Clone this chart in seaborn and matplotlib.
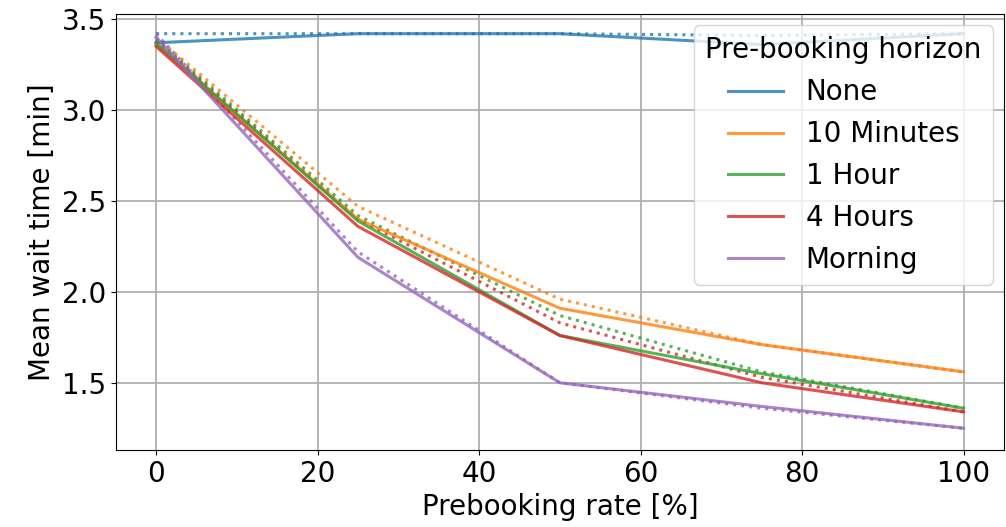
import pandas as pd
import matplotlib
matplotlib.use("Agg")
import matplotlib.pyplot as plt
import seaborn as sns

# 데이터
rates = [0, 25, 50, 75, 100]
horizons = ["None", "10 Minutes", "1 Hour", "4 Hours", "Morning"]

# 실선 (solid)
solid_none = [3.37, 3.42, 3.42, 3.36, 3.42]
solid_10min = [3.36, 2.40, 1.91, 1.71, 1.56]
solid_1h = [3.37, 2.39, 1.76, 1.55, 1.36]
solid_4h = [3.35, 2.36, 1.76, 1.50, 1.34]
solid_morning = [3.40, 2.19, 1.50, 1.37, 1.25]

# 점선 (dotted)
dotted_none = [3.42, 3.42, 3.42, 3.41, 3.42]
dotted_10min = [3.40, 2.47, 1.96, 1.71, 1.56]
dotted_1h = [3.39, 2.42, 1.87, 1.56, 1.36]
dotted_4h = [3.38, 2.40, 1.83, 1.53, 1.34]
dotted_morning = [3.42, 2.22, 1.50, 1.36, 1.25]

solid = [solid_none, solid_10min, solid_1h, solid_4h, solid_morning]
dotted = [dotted_none, dotted_10min, dotted_1h, dotted_4h, dotted_morning]


def to_long(series_list):
    rows = []
    for name, vals in zip(horizons, series_list):
        for r, v in zip(rates, vals):
            rows.append({"rate": r, "wait": v, "horizon": name})
    return pd.DataFrame(rows)


df_solid = to_long(solid)
df_dotted = to_long(dotted)

plt.rcParams["font.size"] = 20
fig, ax = plt.subplots(figsize=(10.06, 5.27), dpi=100)

palette = sns.color_palette("tab10", 5)
sns.lineplot(data=df_dotted, x="rate", y="wait", hue="horizon", hue_order=horizons,
             palette=palette, linestyle=":", linewidth=2.2, alpha=0.8, legend=False, ax=ax)
sns.lineplot(data=df_solid, x="rate", y="wait", hue="horizon", hue_order=horizons,
             palette=palette, linewidth=2.2, alpha=0.8, ax=ax)

ax.grid(True, color="#b0b0b0", linewidth=1.3)
ax.set_xlabel("Prebooking rate [%]")
ax.set_ylabel("Mean wait time [min]")
ax.set_xticks([0, 20, 40, 60, 80, 100])
ax.set_yticks([1.5, 2.0, 2.5, 3.0, 3.5])
ax.set_ylim(1.13, 3.527)
ax.legend(title="Pre-booking horizon", loc="upper right", fontsize=20, title_fontsize=20,
          borderaxespad=0.4)

plt.subplots_adjust(left=0.115, right=0.998, top=0.973, bottom=0.146)
plt.savefig("out.png", dpi=100)
